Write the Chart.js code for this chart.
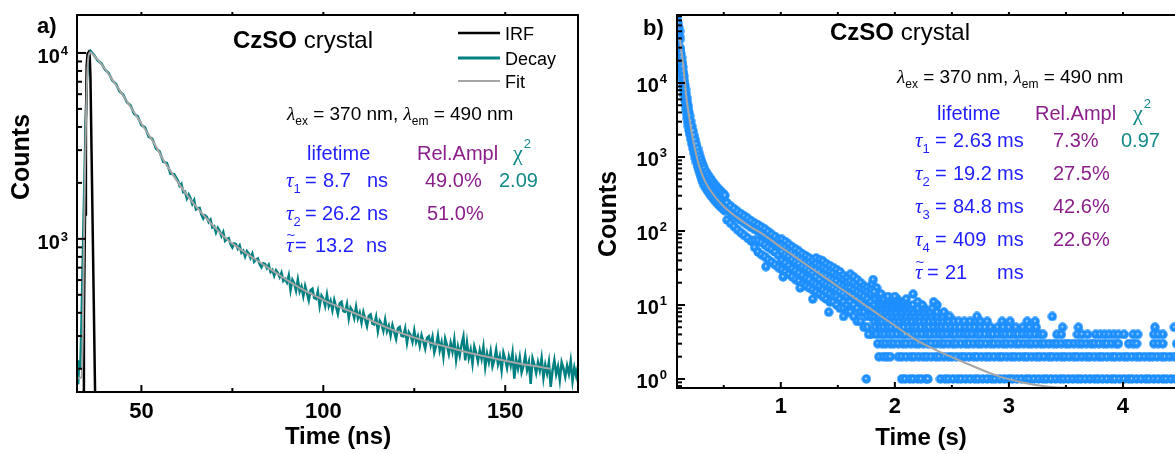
<!DOCTYPE html>
<html>
<head>
<meta charset="utf-8">
<script src="https://cdn.jsdelivr.net/npm/chart.js@4.4.1/dist/chart.umd.min.js"></script>
<style>
  html, body { margin: 0; padding: 0; background: #fff; width: 1175px; height: 454px; overflow: hidden; }
  #chartA { position: absolute; left: 0; top: 0; }
  #chartB { position: absolute; left: 590px; top: 0; }
</style>
</head>
<body>
<canvas id="chartA" width="590" height="454"></canvas>
<canvas id="chartB" width="600" height="454"></canvas>
<script>
// ---------- panel a : ns decay ----------
const irfTimes = [32.3, 33.5, 33.8, 34.0, 34.2, 34.5, 34.75, 34.95, 35.2, 35.5, 35.8, 36.0, 36.3, 36.6, 36.9, 37.2, 37.5, 38.0];
const irfCounts = [20, 40, 70, 150, 370, 1350, 4000, 8500, 9900, 10100, 9600, 7400, 2950, 1170, 470, 185, 75, 20];

const decayTimes = [32.3, 32.6, 32.9, 33.2, 33.5, 33.8, 34.1, 34.4, 34.7, 35.0, 35.3, 35.6, 36.0,
  37, 38, 39, 40, 41, 42, 43, 44, 45, 46, 47, 48, 49, 50, 51, 52, 53, 54, 55, 56, 57, 58, 59,
  60, 60.5, 61, 61.5, 62, 62.5, 63, 63.5, 64, 64.5, 65, 65.5, 66, 66.5, 67, 67.5, 68, 68.5, 69, 69.5,
  70, 70.5, 71, 71.5, 72, 72.5, 73, 73.5, 74, 74.5, 75, 75.5, 76, 76.5, 77, 77.5, 78, 78.5, 79, 79.5,
  80, 80.5, 81, 81.5, 82, 82.5, 83, 83.5, 84, 84.5, 85, 85.5, 86, 86.5, 87, 87.5, 88, 88.5, 89, 89.5,
  90, 90.5, 91, 91.5, 92, 92.5, 93, 93.5, 94, 94.5, 95, 95.5, 96, 96.5, 97, 97.5, 98, 98.5, 99, 99.5,
  100, 100.5, 101, 101.5, 102, 102.5, 103, 103.5, 104, 104.5, 105, 105.5, 106, 106.5, 107, 107.5, 108, 108.5, 109, 109.5,
  110, 110.5, 111, 111.5, 112, 112.5, 113, 113.5, 114, 114.5, 115, 115.5, 116, 116.5, 117, 117.5, 118, 118.5, 119, 119.5,
  120, 120.5, 121, 121.5, 122, 122.5, 123, 123.5, 124, 124.5, 125, 125.5, 126, 126.5, 127, 127.5, 128, 128.5, 129, 129.5,
  130, 130.5, 131, 131.5, 132, 132.5, 133, 133.5, 134, 134.5, 135, 135.5, 136, 136.5, 137, 137.5, 138, 138.5, 139, 139.5,
  140, 140.5, 141, 141.5, 142, 142.5, 143, 143.5, 144, 144.5, 145, 145.5, 146, 146.5, 147, 147.5, 148, 148.5, 149, 149.5,
  150, 150.5, 151, 151.5, 152, 152.5, 153, 153.5, 154, 154.5, 155, 155.5, 156, 156.5, 157, 157.5, 158, 158.5, 159, 159.5,
  160, 160.5, 161, 161.5, 162, 162.5, 163, 163.5, 164, 164.5, 165, 165.5, 166, 166.5, 167, 167.5, 168, 168.5, 169, 169.5,
  170];
const decayCounts = [195, 165, 222, 200, 330, 640, 1250, 2400, 4300, 6900, 9000, 9900, 10250,
  9750, 9100, 8780, 8120, 7800, 7100, 6820, 6200, 5980, 5430, 5230, 4700, 4560, 4090, 3980, 3550, 3450, 3060, 2950, 2600, 2560, 2240, 2230,
  2068, 1929, 1976, 1781, 1794, 1647, 1734, 1656, 1542, 1614, 1440, 1460, 1465, 1352, 1285, 1336, 1311, 1230, 1269, 1152,
  1169, 1081, 1146, 1102, 1035, 1089, 977, 998, 1008, 938, 900, 945, 936, 886, 920, 843, 864, 804, 859, 833,
  788, 833, 753, 772, 784, 731, 703, 739, 733, 695, 724, 664, 681, 634, 678, 657, 622, 658, 594, 609,
  582, 636, 531, 602, 577, 527, 603, 521, 554, 492, 557, 511, 467, 530, 539, 481, 475, 521, 436, 495,
  476, 436, 501, 435, 464, 413, 469, 431, 395, 449, 458, 409, 405, 445, 374, 425, 409, 375, 431, 374,
  400, 355, 403, 370, 339, 385, 392, 350, 346, 380, 319, 362, 348, 320, 367, 318, 340, 302, 343, 316,
  289, 330, 336, 301, 299, 329, 276, 315, 303, 279, 321, 279, 299, 266, 303, 280, 257, 293, 299, 268,
  296, 245, 266, 302, 252, 277, 233, 290, 267, 240, 275, 247, 287, 224, 263, 236, 270, 298, 222, 275,
  229, 253, 213, 264, 244, 219, 251, 226, 262, 205, 241, 217, 248, 206, 223, 253, 212, 233, 196, 244,
  225, 202, 232, 209, 243, 177, 224, 201, 230, 191, 207, 236, 197, 217, 166, 228, 211, 190, 217, 196,
  228, 179, 210, 189, 217, 160, 196, 223, 187, 206, 174, 217, 201, 181, 208, 188, 220, 172, 203, 183,
  208];

const fitTimes = [32.3, 33.0, 33.6, 33.9, 34.2, 34.5, 34.8, 35.1, 35.5, 36.0, 37, 38,
  40, 42, 44, 46, 48, 50, 52, 54, 56, 58, 60, 62, 64, 66, 68, 70, 72, 74, 76, 78, 80, 82, 84, 86,
  88, 90, 92, 94, 96, 98, 100, 102, 104, 106, 108, 110, 112, 114, 116, 118, 120, 122, 124, 126,
  128, 130, 132, 134, 136, 138, 140, 142, 144, 146, 148, 150, 152, 154, 156, 158, 160, 162.3];
const fitCounts = [178, 178, 182, 330, 900, 2300, 4800, 7600, 9700, 10100, 9660, 9200,
  8200, 7190, 6310, 5500, 4800, 4170, 3630, 3140, 2660, 2320, 2020, 1780, 1580, 1420, 1280, 1160, 1060, 977, 914, 857, 807, 760, 716, 676,
  637, 600, 568, 538, 513, 490, 469, 450, 434, 418, 403, 388, 372, 357, 343, 330, 318, 308, 299, 290,
  282, 274, 268, 262, 256, 250, 244, 239, 234, 230, 225, 221, 217, 213, 210, 207, 204, 200];

const xMajorA = [50, 100, 150];
const xMinorA = [75, 125];
const yExpA = [3, 4];

// ---------- panel b : s decay ----------
const bandTimes = [0.088, 0.094, 0.10, 0.106, 0.112, 0.116, 0.12, 0.125, 0.13, 0.135, 0.14, 0.145, 0.15,
  0.155, 0.16, 0.165, 0.17, 0.175, 0.18, 0.185, 0.19, 0.195, 0.20, 0.21, 0.22, 0.23, 0.24, 0.25, 0.26,
  0.27, 0.28, 0.29, 0.30, 0.31, 0.32, 0.33, 0.345, 0.36, 0.375, 0.39, 0.405, 0.42, 0.435, 0.45, 0.465,
  0.48, 0.495, 0.51, 0.53, 0.56, 0.59, 0.62, 0.65, 0.68, 0.71, 0.74, 0.77, 0.80, 0.83, 0.86, 0.89,
  0.92, 0.95, 0.98, 1.01, 1.04, 1.07, 1.10, 1.13, 1.16, 1.19, 1.22, 1.25, 1.28, 1.31, 1.34, 1.37,
  1.40, 1.43, 1.46, 1.49, 1.52, 1.55, 1.58, 1.61, 1.64, 1.67, 1.70, 1.73, 1.76, 1.79];
const bandCounts = [
  [80000, 68000], [72000, 60000], [64000, 54000, 47000], [56000, 45000, 40000], [50000, 42000, 38000],
  [30000, 27500], [28500, 24500, 21000], [25000, 20500, 17500], [22000, 18000, 14500], [19000, 15500, 12500],
  [16500, 13500, 10500], [14200, 11500, 9000], [12500, 10000, 7800], [10800, 8600, 6700], [9300, 7400, 5800],
  [8200, 6500, 5000], [7200, 5700, 4400], [6300, 5000, 3800], [5600, 4400, 3300], [5000, 3900, 2900],
  [4500, 3500, 2600], [4000, 3100, 2300], [3600, 2800, 2050], [3050, 2350, 1750], [2600, 2000, 1500],
  [2250, 1720, 1300], [1950, 1480, 1120], [1700, 1290, 970], [1480, 1130, 850], [1300, 1000, 750],
  [1150, 890, 670], [1020, 800, 600], [920, 720, 540], [830, 650, 490], [760, 595, 450], [700, 545, 410],
  [630, 495, 375], [575, 455, 345], [530, 420, 320], [490, 390, 298], [455, 362, 278], [425, 338, 260],
  [398, 318, 245], [375, 300, 231], [355, 284, 219], [336, 270, 208], [318, 256, 198], [302, 244, 188],
  [239, 196, 141], [218, 179, 127], [200, 164, 115], [184, 151, 104], [171, 140, 95], [159, 130, 87],
  [148, 121, 80], [137, 112, 73], [128, 105, 75, 60], [121, 99, 74, 52], [113, 93, 70, 48], [106, 87, 65, 45],
  [98, 80, 60, 41], [90, 74, 56, 38], [84, 69, 52, 35], [77, 63, 47, 32], [77, 65, 52, 40, 30],
  [72, 61, 48, 37, 28], [66, 56, 45, 34, 26], [61, 52, 41, 31, 24], [57, 48, 38, 29, 22], [53, 45, 36, 27, 21],
  [49, 42, 33, 25, 19], [46, 39, 31, 23, 18], [43, 37, 29, 22, 17], [40, 34, 27, 20, 16],
  [43, 36, 30, 24, 19, 15], [41, 34, 28, 22, 18, 14], [39, 32, 26, 20, 16, 13], [36, 30, 25, 19, 15, 12],
  [34, 28, 23, 18, 14, 11], [32, 27, 22, 17, 13, 11], [30, 25, 21, 16, 13, 10], [28, 24, 19, 15, 12, 9],
  [25, 22, 18, 14, 11, 9], [23, 20, 17, 13, 10, 8], [26, 21, 17, 14, 11, 8], [24, 20, 16, 13, 10, 7],
  [22, 18, 15, 12, 9, 6], [20, 17, 14, 11, 8, 6], [18, 16, 13, 10, 8, 5], [17, 15, 12, 9, 7, 5],
  [16, 14, 11, 9, 7, 4]];

// stray points off the main band
const strayTimes = [0.87, 1.02, 1.17, 1.28, 1.42, 1.55, 1.77, 1.80, 1.81, 1.84];
const strayCounts = [33, 24, 17, 12, 8, 7, 4, 19, 22, 17];

// quantised counts after ~1.8 s: one row of times per integer count
const levelCounts = [1, 2, 3, 4, 5, 6, 7, 8, 9, 10, 11, 12, 13, 14, 15];
const levelTimes = [
  [1.75, 2.06, 2.09, 2.13, 2.16, 2.20, 2.23, 2.27, 2.29, 2.40, 2.44, 2.47, 2.51, 2.55, 2.58, 2.62, 2.66,
   2.70, 2.73, 2.77, 2.81, 2.85, 2.88, 2.92, 2.96, 3.00, 3.03, 3.07, 3.11, 3.15, 3.18, 3.22, 3.26, 3.30,
   3.33, 3.37, 3.41, 3.45, 3.48, 3.52, 3.56, 3.60, 3.63, 3.67, 3.71, 3.75, 3.78, 3.82, 3.86, 3.90, 3.93,
   3.97, 4.01, 4.05, 4.08, 4.12, 4.16, 4.20, 4.23, 4.27, 4.31, 4.35, 4.38, 4.42, 4.46, 4.49],
  [1.86, 1.90, 1.93, 1.96, 2.03, 2.06, 2.10, 2.14, 2.17, 2.21, 2.25, 2.28, 2.32, 2.36, 2.39, 2.43, 2.47,
   2.50, 2.54, 2.58, 2.61, 2.65, 2.69, 2.72, 2.76, 2.80, 2.83, 2.87, 2.91, 2.94, 2.98, 3.02, 3.05, 3.09,
   3.13, 3.16, 3.20, 3.24, 3.27, 3.31, 3.35, 3.38, 3.42, 3.46, 3.49, 3.53, 3.57, 3.60, 3.64, 3.68, 3.71,
   3.75, 3.79, 3.82, 3.86, 3.90, 3.93, 3.97, 4.01, 4.04, 4.08, 4.12, 4.15, 4.19, 4.23, 4.26, 4.30, 4.34,
   4.37, 4.41, 4.45, 4.48],
  [1.85, 1.89, 1.92, 1.96, 1.99, 2.03, 2.07, 2.10, 2.14, 2.18, 2.21, 2.25, 2.29, 2.32, 2.36, 2.40, 2.43,
   2.47, 2.51, 2.54, 2.58, 2.62, 2.65, 2.69, 2.73, 2.76, 2.80, 2.84, 2.87, 2.91, 2.95, 2.98, 3.02, 3.06,
   3.09, 3.13, 3.17, 3.20, 3.24, 3.28, 3.31, 3.35, 3.39, 3.42, 3.46, 3.50, 3.53, 3.57, 3.61, 3.64, 3.68,
   3.72, 3.75, 3.79, 3.83, 3.86, 3.90, 3.94, 3.96, 4.05, 4.09, 4.12, 4.27, 4.31, 4.35, 4.47],
  [1.84, 1.88, 1.91, 1.95, 1.98, 2.02, 2.06, 2.09, 2.13, 2.17, 2.20, 2.24, 2.28, 2.31, 2.35, 2.39, 2.42,
   2.46, 2.50, 2.53, 2.57, 2.61, 2.64, 2.68, 2.72, 2.75, 2.79, 2.83, 2.86, 2.90, 2.94, 2.97, 3.01, 3.05,
   3.08, 3.12, 3.16, 3.19, 3.23, 3.27, 3.30, 3.42, 3.46, 3.60, 3.64, 3.69, 3.76, 3.80, 3.84, 3.88, 3.92,
   3.96, 4.01, 4.09, 4.13, 4.27, 4.31, 4.35],
  [1.83, 1.87, 1.90, 1.94, 1.97, 2.01, 2.05, 2.08, 2.12, 2.16, 2.19, 2.23, 2.27, 2.30, 2.34, 2.38, 2.41,
   2.45, 2.49, 2.53, 2.57, 2.62, 2.66, 2.70, 2.75, 2.79, 2.84, 2.90, 2.95, 3.00, 3.06, 3.12, 3.18, 3.24,
   3.47, 3.61, 4.28, 4.45],
  [1.82, 1.86, 1.89, 1.93, 1.97, 2.00, 2.04, 2.08, 2.11, 2.15, 2.19, 2.22, 2.26, 2.30, 2.34, 2.38, 2.42,
   2.47, 2.52, 2.56, 2.61, 2.66, 2.71, 2.75, 2.81, 2.94, 3.01, 3.16, 3.23],
  [1.82, 1.86, 1.90, 1.94, 1.98, 2.02, 2.06, 2.10, 2.14, 2.18, 2.22, 2.27, 2.32, 2.37, 2.42, 2.48, 2.72, 3.38],
  [1.83, 1.88, 1.92, 1.97, 2.01, 2.06, 2.11, 2.16, 2.21, 2.26, 2.31, 2.37, 2.43],
  [1.84, 1.89, 1.94, 1.99, 2.04, 2.09, 2.14, 2.20, 2.26, 2.33],
  [1.82, 1.87, 1.93, 1.98, 2.04, 2.10, 2.16, 2.24, 2.37],
  [1.85, 1.91, 1.97, 2.03, 2.08, 2.20, 2.34],
  [1.83, 1.90, 1.96, 2.02, 2.10],
  [1.86, 1.94, 2.00],
  [1.88, 2.16],
  [1.82]];

const fitBTimes = [0.115, 0.13, 0.146, 0.16, 0.175, 0.196, 0.22, 0.25, 0.286, 0.336, 0.41, 0.50, 0.61,
  0.73, 0.85, 0.99, 1.10, 1.23, 1.37, 1.50, 1.62, 1.75, 1.87, 1.99, 2.10, 2.22, 2.43, 2.63, 2.90, 3.10,
  3.33, 3.60, 3.80];
const fitBCounts = [40000, 26300, 16600, 10000, 5890, 3550, 2090, 1230, 741, 468, 309, 214, 155,
  115, 89, 62, 47.5, 34.4, 24.5, 17.8, 13.3, 9.7, 7.2, 5.4, 4.1, 3.15, 2.2, 1.62, 1.1, 0.91,
  0.79, 0.74, 0.72];

const xMajorB = [1, 2, 3, 4];
const xMinorB = [0.5, 1.5, 2.5, 3.5, 4.5];
const yExpB = [0, 1, 2, 3, 4];

// ---------- styling ----------
const FONT = '"Liberation Sans", Arial, Helvetica, sans-serif';
const SERIF = '"Liberation Serif", "Times New Roman", serif';
const TEAL = '#008080';
const GREY = '#a6a6a6';
const BLUE_TXT = '#1f1fff';
const PURPLE = '#8a1f8a';
const TEAL_TXT = '#128a8a';
const DOT_BLUE = '#1e8fff';

function pts(ts, cs) {
  return ts.map((t, i) => ({ x: t, y: cs[i] }));
}

function minorLog(lo, hi) {
  const out = [];
  for (let e = Math.floor(Math.log10(lo)); e <= Math.ceil(Math.log10(hi)); e++) {
    for (let m = 2; m <= 9; m++) {
      const v = m * Math.pow(10, e);
      if (v > lo && v < hi) out.push(v);
    }
  }
  return out;
}

function txt(ctx, s, x, y, font, color, align) {
  ctx.font = font;
  ctx.fillStyle = color;
  ctx.textAlign = align || 'left';
  ctx.textBaseline = 'alphabetic';
  ctx.fillText(s, x, y);
  return x + ctx.measureText(s).width;
}

function tickX(ctx, sx, vals, y0, len, w) {
  ctx.lineWidth = w;
  vals.forEach(v => {
    const p = sx.getPixelForValue(v);
    ctx.beginPath(); ctx.moveTo(p, y0); ctx.lineTo(p, y0 + len); ctx.stroke();
  });
}

function tickY(ctx, sy, vals, x0, len, w) {
  ctx.lineWidth = w;
  vals.forEach(v => {
    const p = sy.getPixelForValue(v);
    ctx.beginPath(); ctx.moveTo(x0, p); ctx.lineTo(x0 + len, p); ctx.stroke();
  });
}

function logLabels(ctx, sy, exps, right, dyMain, dySup) {
  exps.forEach(e => {
    const p = sy.getPixelForValue(Math.pow(10, e));
    ctx.font = 'bold 13px ' + FONT;
    const sw = ctx.measureText(String(e)).width;
    txt(ctx, String(e), right, p + dySup, 'bold 13px ' + FONT, '#000', 'right');
    txt(ctx, '10', right - sw - 1, p + dyMain, 'bold 20px ' + FONT, '#000', 'right');
  });
}

function yTitle(ctx, cx, cy) {
  ctx.save();
  ctx.translate(cx, cy);
  ctx.rotate(-Math.PI / 2);
  ctx.font = 'bold 25px ' + FONT;
  ctx.fillStyle = '#000';
  ctx.textAlign = 'center';
  ctx.textBaseline = 'middle';
  ctx.fillText('Counts', 0, 0);
  ctx.restore();
}

function xTitle(ctx, s, cx, cy) {
  ctx.font = 'bold 24px ' + FONT;
  ctx.fillStyle = '#000';
  ctx.textAlign = 'center';
  ctx.textBaseline = 'middle';
  ctx.fillText(s, cx, cy);
}

function lambdaLine(ctx, x, y) {
  const main = '19px ' + FONT, sub = '12px ' + FONT, greek = 'italic 19px ' + SERIF;
  x = txt(ctx, 'λ', x, y, greek, '#000');
  x = txt(ctx, 'ex', x, y + 5, sub, '#000');
  x = txt(ctx, ' = 370 nm, ', x, y, main, '#000');
  x = txt(ctx, 'λ', x, y, greek, '#000');
  x = txt(ctx, 'em', x, y + 5, sub, '#000');
  txt(ctx, ' = 490 nm', x, y, main, '#000');
}

function tau(ctx, x, y, sub, tilde) {
  const nx = txt(ctx, 'τ', x, y, 'italic 21px ' + SERIF, BLUE_TXT);
  if (tilde) txt(ctx, '~', x + 0.5, y - 12, '15px ' + FONT, BLUE_TXT);
  if (sub) txt(ctx, sub, nx, y + 6, '13px ' + FONT, BLUE_TXT);
}

function header(ctx, xl, xr, xc, y) {
  txt(ctx, 'lifetime', xl, y, '20px ' + FONT, BLUE_TXT);
  txt(ctx, 'Rel.Ampl', xr, y, '20px ' + FONT, PURPLE);
  const nx = txt(ctx, 'χ', xc, y, '22px ' + SERIF, TEAL_TXT);
  txt(ctx, '2', nx + 1, y - 12, '13px ' + FONT, TEAL_TXT);
}

// ---------- panel a decorations ----------
const decorA = {
  id: 'decorA',
  afterDatasetsDraw(chart) {
    const { ctx, chartArea: ca, scales: { x, y } } = chart;
    ctx.save();
    ctx.strokeStyle = '#000';
    ctx.lineWidth = 2;
    ctx.strokeRect(ca.left, ca.top, ca.right - ca.left, ca.bottom - ca.top);
    tickX(ctx, x, xMajorA, ca.bottom, -7, 2);
    tickX(ctx, x, xMinorA, ca.bottom, -4, 2);
    tickX(ctx, x, xMajorA.concat(xMinorA), ca.top, -3, 2);
    tickY(ctx, y, yExpA.map(e => Math.pow(10, e)), ca.left, 9, 2);
    tickY(ctx, y, minorLog(y.min, y.max), ca.left, 5, 2);
    logLabels(ctx, y, yExpA, 68, 10, 2);
    yTitle(ctx, 22, 157);
    xTitle(ctx, 'Time (ns)', 338, 437);

    txt(ctx, 'a)', 37, 33, 'bold 22px ' + FONT, '#000');
    let nx = txt(ctx, 'CzSO', 233, 48, 'bold 24px ' + FONT, '#000');
    txt(ctx, ' crystal', nx, 48, '24px ' + FONT, '#000');

    // legend
    [['IRF', '#000', 2.5, 33], ['Decay', TEAL, 3, 58], ['Fit', GREY, 2, 81]].forEach(([name, col, w, ly]) => {
      ctx.strokeStyle = col; ctx.lineWidth = w;
      ctx.beginPath(); ctx.moveTo(458, ly); ctx.lineTo(500, ly); ctx.stroke();
      txt(ctx, name, 505, ly + 6.5, '18px ' + FONT, '#000');
    });

    lambdaLine(ctx, 287, 120);
    header(ctx, 307, 417, 513, 160);

    tau(ctx, 286, 187, '1');
    txt(ctx, '=', 305, 187, '20px ' + FONT, BLUE_TXT);
    txt(ctx, '8.7', 323, 187, '20px ' + FONT, BLUE_TXT);
    txt(ctx, 'ns', 367, 187, '20px ' + FONT, BLUE_TXT);
    txt(ctx, '49.0%', 425, 187, '20px ' + FONT, PURPLE);
    txt(ctx, '2.09', 499, 187, '20px ' + FONT, TEAL_TXT);

    tau(ctx, 286, 220, '2');
    txt(ctx, '=', 305, 220, '20px ' + FONT, BLUE_TXT);
    txt(ctx, '26.2', 322, 220, '20px ' + FONT, BLUE_TXT);
    txt(ctx, 'ns', 367, 220, '20px ' + FONT, BLUE_TXT);
    txt(ctx, '51.0%', 427, 220, '20px ' + FONT, PURPLE);

    tau(ctx, 286, 252, '', true);
    txt(ctx, '=', 295, 252, '20px ' + FONT, BLUE_TXT);
    txt(ctx, '13.2', 315, 252, '20px ' + FONT, BLUE_TXT);
    txt(ctx, 'ns', 366, 252, '20px ' + FONT, BLUE_TXT);
    ctx.restore();
  }
};

// ---------- panel b decorations (canvas starts at page x = 590) ----------
const decorB = {
  id: 'decorB',
  afterDatasetsDraw(chart) {
    const { ctx, chartArea: ca, scales: { x, y } } = chart;
    ctx.save();
    ctx.strokeStyle = '#000';
    ctx.lineWidth = 2;
    ctx.strokeRect(ca.left, ca.top, ca.right - ca.left, ca.bottom - ca.top);
    tickX(ctx, x, xMajorB, ca.bottom, -6, 2);
    tickX(ctx, x, xMinorB, ca.bottom, -3, 2);
    tickX(ctx, x, xMajorB.concat(xMinorB), ca.top, -3, 2);
    tickY(ctx, y, yExpB.map(e => Math.pow(10, e)), ca.left, 8, 2);
    tickY(ctx, y, minorLog(y.min, y.max), ca.left, 5, 2);
    logLabels(ctx, y, yExpB, 77, 9, 0);
    yTitle(ctx, 19, 214);
    xTitle(ctx, 'Time (s)', 331, 438);

    txt(ctx, 'b)', 53, 35, 'bold 22px ' + FONT, '#000');
    let nx = txt(ctx, 'CzSO', 240, 40, 'bold 24px ' + FONT, '#000');
    txt(ctx, ' crystal', nx, 40, '24px ' + FONT, '#000');

    lambdaLine(ctx, 307, 83);
    header(ctx, 347, 445, 543, 120);

    const rows = [['1', '2.63', '7.3%', 147], ['2', '19.2', '27.5%', 180], ['3', '84.8', '42.6%', 213], ['4', '409', '22.6%', 246]];
    rows.forEach(([s, v, a, ry]) => {
      tau(ctx, 325, ry, s);
      txt(ctx, '=', 345, ry, '20px ' + FONT, BLUE_TXT);
      txt(ctx, v, 363, ry, '20px ' + FONT, BLUE_TXT);
      txt(ctx, 'ms', 407, ry, '20px ' + FONT, BLUE_TXT);
      txt(ctx, a, 463, ry, '20px ' + FONT, PURPLE);
    });
    txt(ctx, '0.97', 531, 147, '20px ' + FONT, TEAL_TXT);

    tau(ctx, 325, 279, '', true);
    txt(ctx, '=', 337, 279, '20px ' + FONT, BLUE_TXT);
    txt(ctx, '21', 355, 279, '20px ' + FONT, BLUE_TXT);
    txt(ctx, 'ms', 407, 279, '20px ' + FONT, BLUE_TXT);
    ctx.restore();
  }
};

function xAxis(min, max, ticks, pad, h) {
  return {
    type: 'linear', min: min, max: max,
    grid: { display: false, drawTicks: false },
    border: { display: false },
    afterBuildTicks: s => { s.ticks = ticks.map(v => ({ value: v })); },
    afterFit: s => { s.height = h; },
    ticks: { font: { family: FONT, size: 22, weight: 'bold' }, color: '#000', padding: pad, autoSkip: false, maxRotation: 0 }
  };
}

function yAxis(min, max, w) {
  return {
    type: 'logarithmic', min: min, max: max,
    grid: { display: false, drawTicks: false },
    border: { display: false },
    ticks: { display: false },
    afterFit: s => { s.width = w; }
  };
}

const common = {
  responsive: false,
  animation: false,
  devicePixelRatio: 1,
  plugins: { legend: { display: false }, tooltip: { enabled: false } }
};

new Chart(document.getElementById('chartA'), {
  type: 'line',
  data: {
    datasets: [
      { label: 'Fit', data: pts(fitTimes, fitCounts), borderColor: GREY, borderWidth: 2, pointRadius: 0, cubicInterpolationMode: 'monotone', order: 0 },
      { label: 'IRF', data: pts(irfTimes, irfCounts), borderColor: '#000', borderWidth: 2.5, pointRadius: 0, order: 1 },
      { label: 'Decay', data: pts(decayTimes, decayCounts), borderColor: TEAL, borderWidth: 2.5, pointRadius: 0, order: 2 }
    ]
  },
  options: Object.assign({}, common, {
    layout: { padding: { left: 0, right: 12, top: 15, bottom: 0 } },
    scales: { x: xAxis(32.3, 170, xMajorA, 7, 62), y: yAxis(150, 16000, 77) }
  }),
  plugins: [decorA]
});

// shaded sphere marker like the original plot
const dot = document.createElement('canvas');
dot.width = 10; dot.height = 10;
const g = dot.getContext('2d');
g.fillStyle = DOT_BLUE;
g.beginPath(); g.arc(5, 5, 4.7, 0, Math.PI * 2); g.fill();
g.fillStyle = 'rgba(255,255,255,0.75)';
g.beginPath(); g.arc(4.7, 4.6, 1.0, 0, Math.PI * 2); g.fill();

const scatterPts = [];
bandTimes.forEach((t, i) => bandCounts[i].forEach(c => scatterPts.push({ x: t, y: c })));
strayTimes.forEach((t, i) => scatterPts.push({ x: t, y: strayCounts[i] }));
levelCounts.forEach((n, i) => levelTimes[i].forEach(t => scatterPts.push({ x: t, y: n })));

new Chart(document.getElementById('chartB'), {
  type: 'scatter',
  data: {
    datasets: [
      { type: 'line', label: 'Fit', data: pts(fitBTimes, fitBCounts), borderColor: GREY, borderWidth: 2, pointRadius: 0, cubicInterpolationMode: 'monotone', order: 0 },
      { label: 'Decay', data: scatterPts, pointStyle: dot, pointRadius: 5, order: 1 }
    ]
  },
  options: Object.assign({}, common, {
    layout: { padding: { left: 0, right: 10, top: 15, bottom: 0 } },
    scales: { x: xAxis(0.09, 4.5, xMajorB, 6, 66), y: yAxis(0.755, 83000, 87) }
  }),
  plugins: [decorB]
});
</script>
</body>
</html>
